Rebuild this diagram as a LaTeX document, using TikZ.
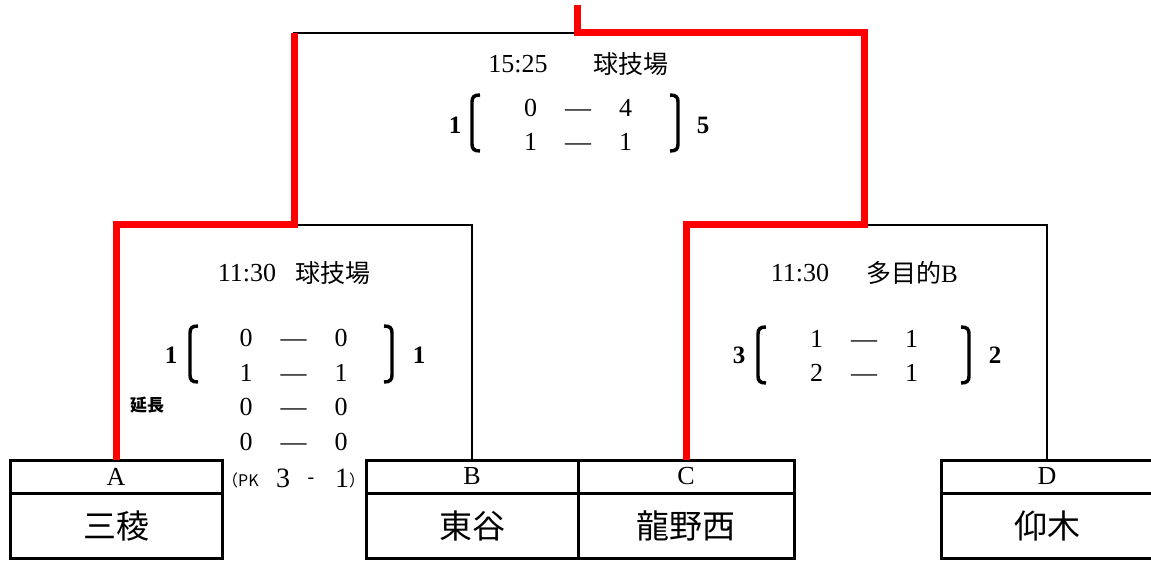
\documentclass[tikz,border=0pt]{standalone}
\usepackage{fontspec}
\setmainfont{Liberation Serif}
\newfontfamily\jp{Noto Sans CJK JP}
\usetikzlibrary{positioning}
\usetikzlibrary{matrix}

\tikzset{
 letterbox/.style={draw,line width=3pt,minimum width=212pt,minimum height=33pt,inner sep=0pt,outer sep=0pt,font=\fontsize{26}{26}\selectfont},
 namebox/.style={draw,line width=3pt,minimum width=212pt,minimum height=65pt,inner sep=0pt,outer sep=0pt,font=\jp\fontsize{33}{33}\selectfont},
 winline/.style={red,line width=7pt},
 loseline/.style={line width=2.5pt},
 timelabel/.style={inner sep=0pt,font=\fontsize{26}{26}\selectfont},
 placelabel/.style={inner sep=0pt,font=\jp\fontsize{25}{25}\selectfont},
 total/.style={inner sep=0pt,font=\bfseries\fontsize{25}{25}\selectfont},
 scores/.style={matrix of nodes,inner sep=0pt,
   nodes={minimum width=47.5pt,minimum height=34.5pt,text height=17pt,text depth=0pt,inner sep=0pt,font=\fontsize{26}{26}\selectfont}},
 lbrak/.pic={\draw[line width=3.4pt] (9,-28) .. controls (3,-28) and (1,-26) .. (1,-21) -- (1,21) .. controls (1,26) and (3,28) .. (9,28);},
 rbrak/.pic={\draw[line width=3.4pt] (-9,-28) .. controls (-3,-28) and (-1,-26) .. (-1,-21) -- (-1,21) .. controls (-1,26) and (-3,28) .. (-9,28);}
}

\begin{document}
\begin{tikzpicture}[x=1pt,y=-1pt]
\useasboundingbox (0,0) rectangle (1151,561);

% teams
\node[letterbox] (lA) at (116,476.5) {A};
\node[namebox,below=0pt of lA] (tA) {三稜};
\node[letterbox] (lB) at (472,476.5) {B};
\node[namebox,below=0pt of lB] (tB) {東谷};
\node[letterbox,minimum width=216pt,right=0pt of lB] (lC) {C};
\node[namebox,minimum width=216pt,below=0pt of lC] (tC) {龍野西};
\node[letterbox] (lD) at (1047,476.5) {D};
\node[namebox,below=0pt of lD] (tD) {仰木};

% bracket lines
\coordinate (jAB) at (294,225);
\coordinate (jCD) at (864,225);
\coordinate (jF) at (577,33);
\coordinate (top) at (577,5);
\draw[loseline] (lB.north) |- (jAB);
\draw[loseline] (lD.north) |- (jCD);
\draw[loseline] (jAB) |- (jF);
\draw[winline] (lA.north) |- (jAB) -- (jAB |- jF);
\draw[winline] (lC.north) |- (jCD) |- (jF) -- (top);

% final
\node[timelabel] (tF) at (518,64) {15:25};
\node[placelabel] (pF) at (631,64) {球技場};
\matrix[scores] (sF) at (578,125) {
 0 & --- & 4 \\
 1 & --- & 1 \\
};
\pic at (471,123) {lbrak};
\pic at (679,123) {rbrak};
\node[total] (nF1) at (455,125) {1};
\node[total] (nF2) at (703,125) {5};

% semi AB
\node[timelabel] (tS1) at (247,273) {11:30};
\node[placelabel] (pS1) at (333,273) {球技場};
\matrix[scores] (sS1) at (293.5,390) {
 0 & --- & 0 \\
 1 & --- & 1 \\
 0 & --- & 0 \\
 0 & --- & 0 \\
};
\pic at (189,354) {lbrak};
\pic at (393,354) {rbrak};
\node[total] (nS1a) at (171,355) {1};
\node[total] (nS1b) at (419,355) {1};
\node[inner sep=0pt,font=\jp\bfseries\fontsize{17}{17}\selectfont] (ext) at (147,405) {延長};
\node[inner sep=0pt,anchor=west,font=\jp\fontsize{16}{16}\selectfont] (pkL) at (222,480) {（PK};
\node[inner sep=0pt,font=\fontsize{28}{28}\selectfont] (pk3) at (283,478) {3};
\node[inner sep=0pt,font=\fontsize{20}{20}\selectfont] (pkm) at (311,481) {-};
\node[inner sep=0pt,font=\fontsize{28}{28}\selectfont] (pk1) at (342,478) {1};
\node[inner sep=0pt,anchor=west,font=\jp\fontsize{16}{16}\selectfont] (pkR) at (349,480) {）};

% semi CD
\node[timelabel] (tS2) at (800,273) {11:30};
\node[placelabel] (pS2) at (912,273) {多目的{\rmfamily B}};
\matrix[scores] (sS2) at (864,356) {
 1 & --- & 1 \\
 2 & --- & 1 \\
};
\pic at (757,355) {lbrak};
\pic at (970,355) {rbrak};
\node[total] (nS2a) at (739,355) {3};
\node[total] (nS2b) at (995,355) {2};
\end{tikzpicture}
\end{document}
